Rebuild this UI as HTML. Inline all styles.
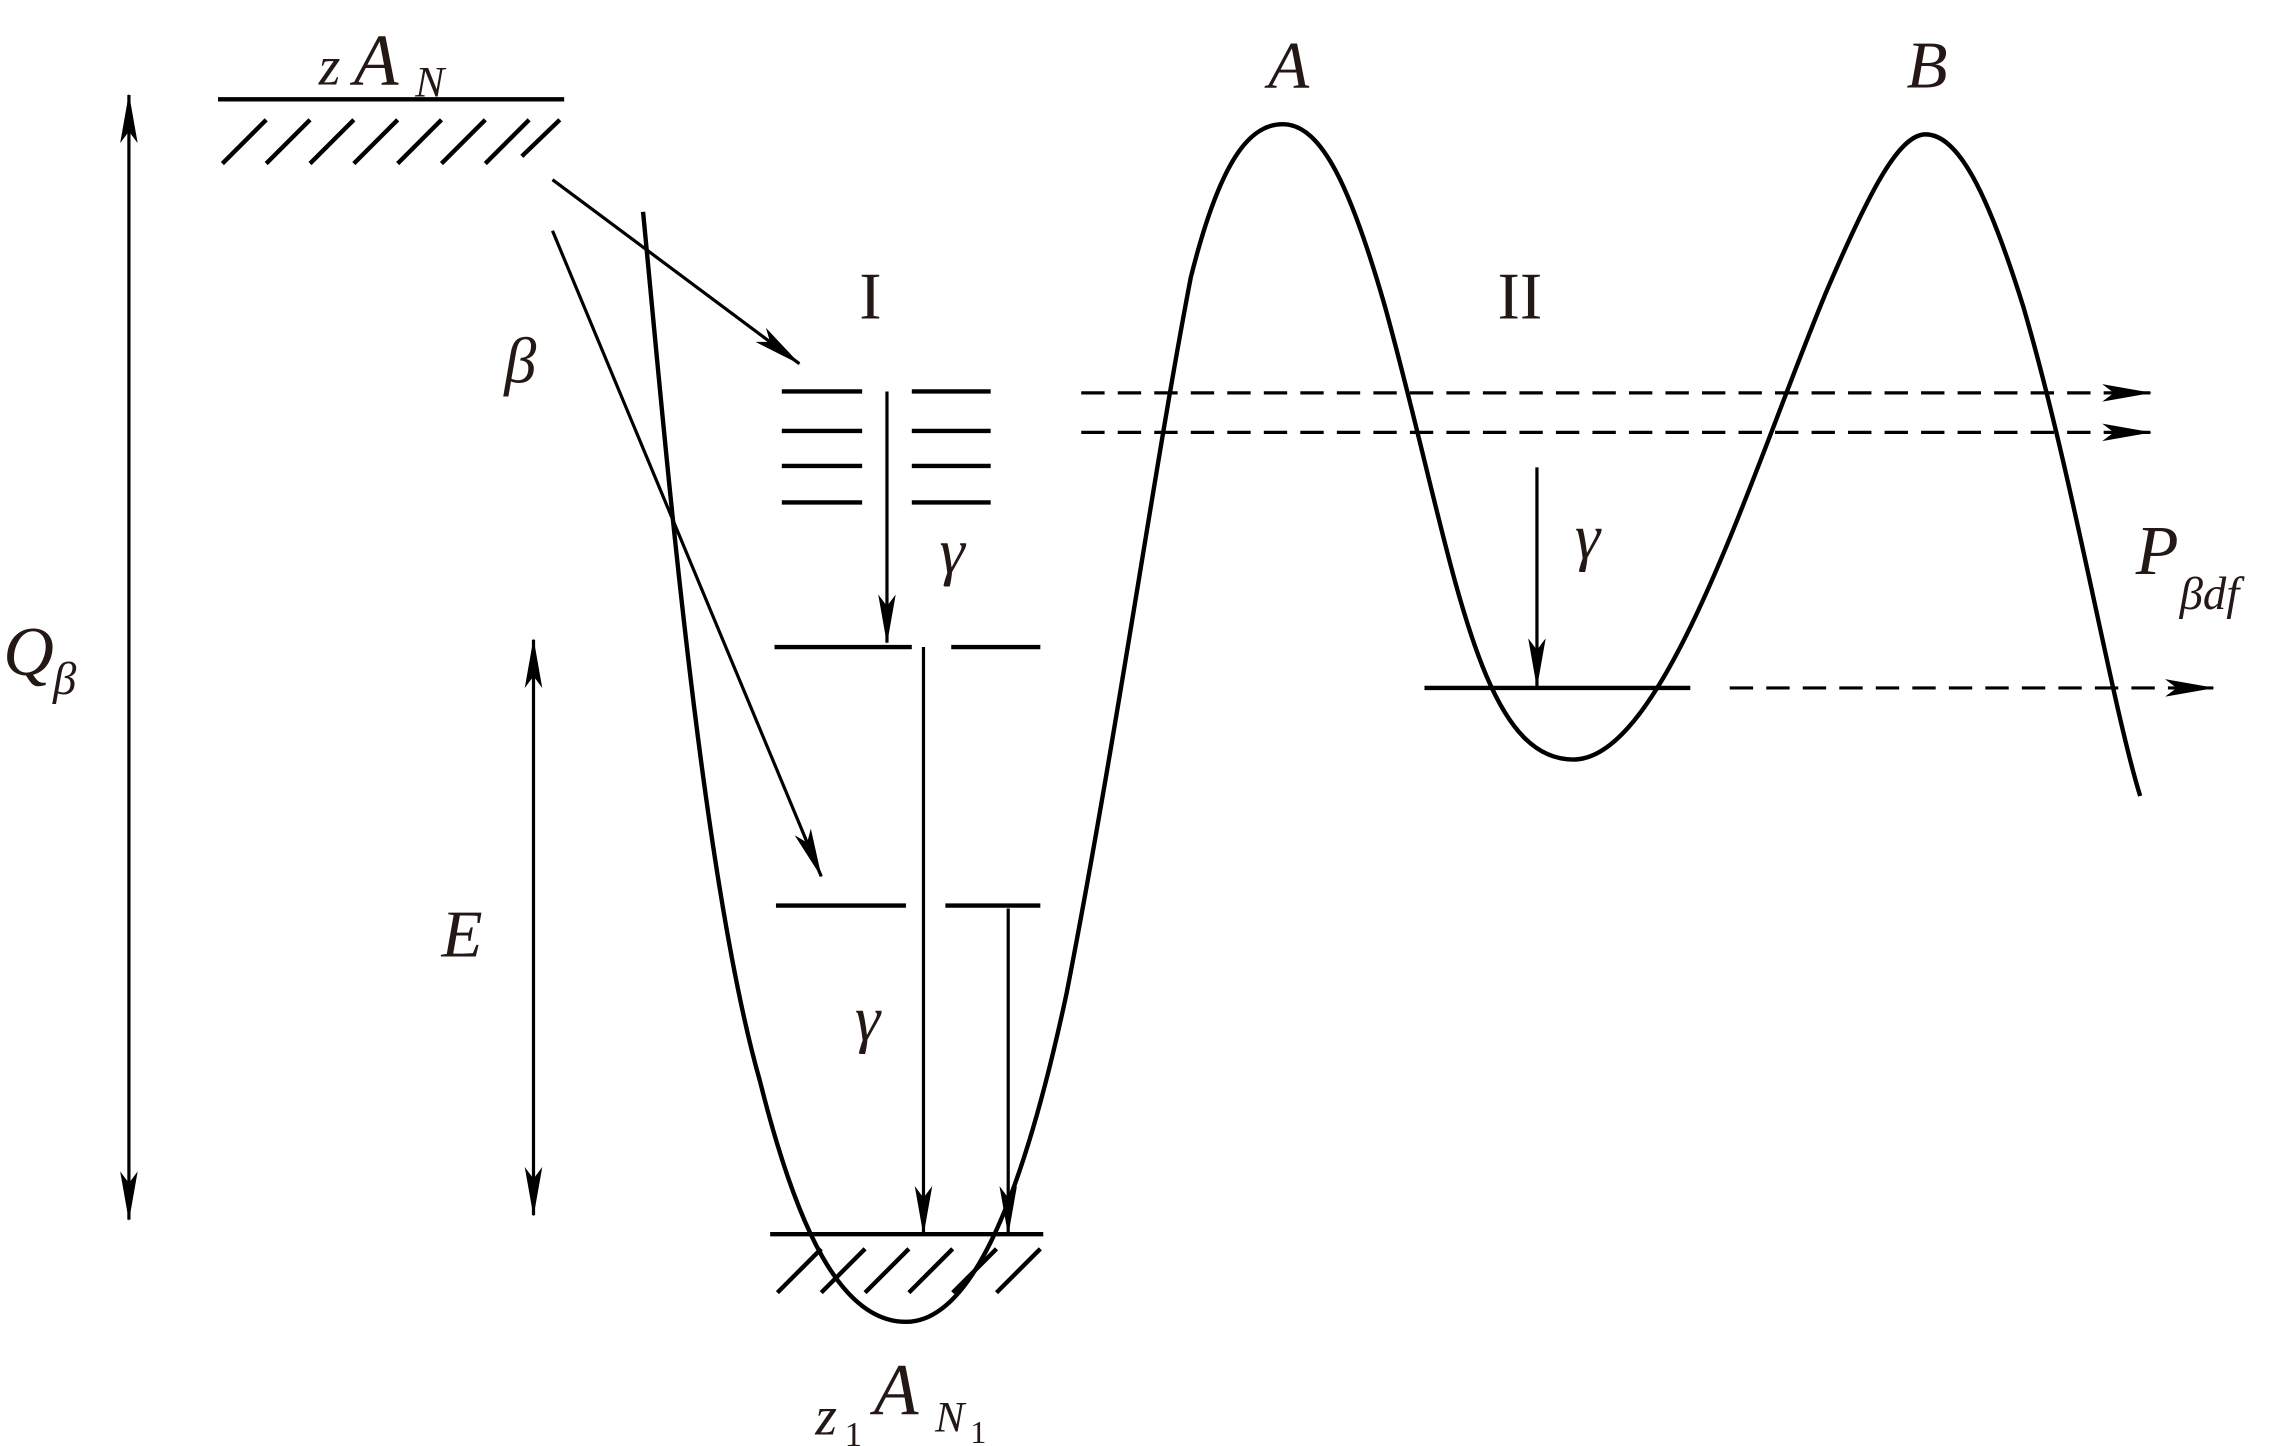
<!DOCTYPE html>
<html><head><meta charset="utf-8"><style>
html,body{margin:0;padding:0;background:#fff;}
svg{display:block}
text{font-family:"Liberation Serif",serif;fill:#231815}
.it{font-style:italic}
</style></head><body>
<svg width="2291" height="1446" viewBox="0 0 1568 990" xmlns="http://www.w3.org/2000/svg">
<defs>
<marker id="ahL" markerWidth="34" markerHeight="12" refX="33" refY="6" orient="auto" markerUnits="userSpaceOnUse" viewBox="0 0 34 12">
<path d="M0,0 L34,6 L0,12 L8,6 Z" fill="#000"/></marker>
<marker id="ahS" markerWidth="34" markerHeight="12" refX="1" refY="6" orient="auto" markerUnits="userSpaceOnUse" viewBox="0 0 34 12">
<path d="M34,0 L0,6 L34,12 L26,6 Z" fill="#000"/></marker>
</defs>
<g stroke="#000" stroke-width="3" fill="none">
<path d="M440,145 C455,300 480,600 520,740 C545,840 575,905 620,905 C665,905 700,820 730,680 C765,500 790,320 815,190 C835,110 855,85 878,85 C905,85 925,130 948,210 C995,380 1010,520 1077,520 C1140,520 1200,320 1250,200 C1280,130 1300,92 1318,92 C1340,92 1360,130 1385,210 C1420,330 1445,480 1465,545"/>
<line x1="149" y1="68" x2="386" y2="68"/>
<path d="M152,112 L182,82 M182,112 L212,82 M212,112 L242,82 M242,112 L272,82 M272,112 L302,82 M302,112 L332,82 M332,112 L362,82 M357,107 L383,82"/>
<line x1="527" y1="845" x2="714" y2="845"/>
<path d="M532,885 L562,855 M562,885 L592,855 M592,885 L622,855 M622,885 L652,855 M652,885 L682,855 M682,885 L712,855"/>
<path d="M535,268 H590 M535,295 H590 M535,319 H590 M535,344 H590 M624,268 H678 M624,295 H678 M624,319 H678 M624,344 H678"/>
<path d="M530,443 H624 M651,443 H712 M531,620 H620 M647,620 H712"/>
<line x1="975" y1="471" x2="1157" y2="471"/>
</g>
<g stroke="#000" stroke-width="2.2" fill="none">
<line x1="378" y1="123" x2="547" y2="249" marker-end="url(#ahL)"/>
<line x1="378" y1="158" x2="562" y2="600" marker-end="url(#ahL)"/>
<line x1="607" y1="268" x2="607" y2="440" marker-end="url(#ahL)"/>
<line x1="632" y1="443" x2="632" y2="845" marker-end="url(#ahL)"/>
<line x1="690" y1="622" x2="690" y2="845" marker-end="url(#ahL)"/>
<line x1="1052" y1="320" x2="1052" y2="470" marker-end="url(#ahL)"/>
<line x1="88" y1="65" x2="88" y2="835" marker-start="url(#ahS)" marker-end="url(#ahL)"/>
<line x1="365" y1="438" x2="365" y2="832" marker-start="url(#ahS)" marker-end="url(#ahL)"/>
<g stroke-dasharray="16,9">
<line x1="740" y1="269" x2="1472" y2="269" marker-end="url(#ahL)"/>
<line x1="740" y1="296" x2="1472" y2="296" marker-end="url(#ahL)"/>
<line x1="1184" y1="471" x2="1515" y2="471" marker-end="url(#ahL)"/>
</g>
</g>
<text x="218" y="58" class="it" font-size="38">z</text>
<text x="242" y="58" class="it" font-size="50">A</text>
<text x="284" y="66" class="it" font-size="30">N</text>
<text x="868" y="60" class="it" font-size="46">A</text>
<text x="1305" y="60" class="it" font-size="46">B</text>
<text x="588" y="218" font-size="46">I</text>
<text x="1025" y="218" font-size="46">II</text>
<text x="345" y="262" class="it" font-size="44">β</text>
<text x="643" y="392" class="it" font-size="44">γ</text>
<text x="585" y="712" class="it" font-size="44">γ</text>
<text x="1078" y="382" class="it" font-size="44">γ</text>
<text x="2" y="462" class="it" font-size="48">Q</text>
<text x="36" y="475" class="it" font-size="32">β</text>
<text x="302" y="655" class="it" font-size="46">E</text>
<text x="1462" y="393" class="it" font-size="48">P</text>
<text x="1492" y="417" class="it" font-size="32">βdf</text>
<text x="558" y="982" class="it" font-size="38">z</text>
<text x="578" y="990" font-size="24">1</text>
<text x="598" y="968" class="it" font-size="50">A</text>
<text x="640" y="980" class="it" font-size="30">N</text>
<text x="664" y="988" font-size="22">1</text>
</svg>
</body></html>
